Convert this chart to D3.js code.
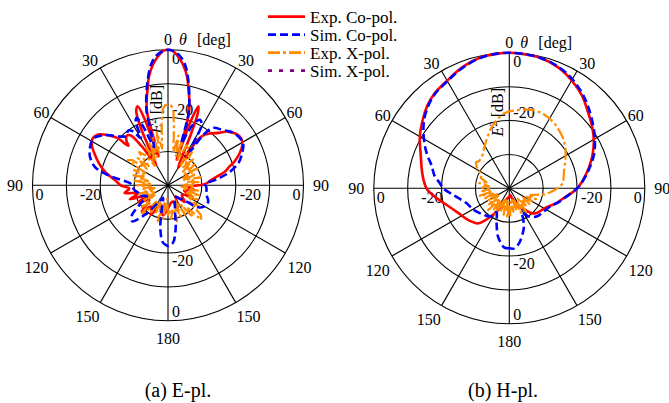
<!DOCTYPE html>
<html>
<head>
<meta charset="utf-8">
<script src="https://cdn.jsdelivr.net/npm/d3@7/dist/d3.min.js"></script>
<style>
  html, body { margin: 0; padding: 0; background: #fff; }
  svg { display: block; }
</style>
</head>
<body>
<svg id="chart" width="669" height="403"></svg>
<script>
// ---------------- DATA ([angle deg, level dB]) ----------------
const seriesNames = ["Exp. Co-pol.", "Sim. Co-pol.", "Exp. X-pol.", "Sim. X-pol."];
const angleTicks = [0, 30, 60, 90, 120, 150, 180, -30, -60, -90, -120, -150];
const angleTickLabels = ["0", "30", "60", "90", "120", "150", "180", "30", "60", "90", "120", "150"];
const radialTicks = [0, -20];
const radialTickLabels = ["0", "-20"];
const captions = ["(a) E-pl.", "(b) H-pl."];

// E-plane, measured co-pol
const eExpCo = [[-180,-33],[-170,-31],[-160,-34],[-150,-30],[-142,-32],[-135,-29],[-128,-33],[-120,-30],[-115,-33],[-110,-28],[-105,-31],[-100,-27],[-95,-28.5],[-90,-26],[-85,-24.5],[-78,-21],[-72,-18.5],[-67,-16.5],[-62,-14.5],[-58,-13.8],[-54,-14.5],[-50,-17],[-47,-19.5],[-45,-23.5],[-43,-22],[-40,-21],[-37,-21.5],[-34,-26],[-30,-33],[-27,-28],[-25,-20],[-23,-16],[-21,-15],[-19.5,-19],[-18,-31],[-16,-17.5],[-14,-14],[-12,-11],[-10,-7.5],[-7,-4],[-4,-1.5],[-2,-0.3],[0,0],[2,-0.3],[4,-1.5],[7,-4],[10,-7.5],[12,-11],[14,-14],[16,-17.5],[17.5,-24],[18.5,-32],[19.5,-20],[21,-15],[22.5,-17],[24,-23],[26,-30],[30,-34],[33,-24],[36,-21.5],[40,-20],[44,-18.5],[48,-16.3],[53,-14.8],[57.5,-14.3],[62,-15.2],[66,-16.9],[70,-19],[73,-21],[77,-23],[80,-25.5],[84,-27.5],[88,-29],[90,-31],[95,-34],[100,-32],[108,-35],[115,-32],[125,-35],[135,-33],[145,-36],[155,-33],[165,-35],[180,-33]];
// E-plane, simulated co-pol
const eSimCo = [[-180,-22],[-175,-23],[-170,-27],[-165,-33],[-158,-36],[-150,-34],[-142,-29],[-135,-25],[-130,-26],[-124,-30],[-117,-33],[-110,-31],[-105,-31],[-98,-30],[-92,-29.5],[-87,-28.8],[-81,-22.7],[-76,-17.8],[-70,-15.5],[-64,-14.4],[-58,-14],[-53,-15.5],[-49,-17.5],[-44,-20],[-40,-21],[-36,-20],[-33,-21],[-30,-24],[-27,-19],[-25,-18],[-23,-21],[-20,-28],[-18,-24],[-16,-17],[-14,-13.5],[-11,-8.5],[-8,-4],[-5,-1.5],[-2,-0.3],[0,0],[2,-0.3],[5,-1.5],[8,-4],[11,-8.5],[14,-14],[16,-18],[18,-27],[20,-24],[23,-20],[26,-18.5],[29,-19.5],[31,-25],[33,-28],[35,-22],[38,-18.5],[45,-17],[51,-15.3],[57,-14.6],[61,-14.6],[66,-16],[72,-18],[78,-21.5],[83,-25.5],[88,-29],[94,-28.6],[103,-28.4],[112,-27.2],[120,-27.5],[126,-29],[132,-33],[140,-35],[150,-36],[160,-34],[165,-32],[170,-27],[175,-23],[180,-22]];
// E-plane, measured cross-pol
const eExpX = [[-180,-31],[-176,-36],[-172,-30],[-168,-35],[-164,-29],[-160,-34],[-156,-31],[-152,-36],[-148,-30],[-144,-34],[-140,-29],[-137,-28.7],[-134,-33],[-130,-30],[-126,-35],[-122,-31],[-118,-36],[-114,-32],[-110,-35],[-106,-31],[-102,-36],[-98,-32],[-94,-35],[-90,-31],[-86,-35],[-82,-30],[-78,-34],[-74,-29],[-70,-33],[-66,-29],[-62,-33],[-58,-26],[-55,-27],[-52,-32],[-48,-28],[-45,-32],[-41,-27],[-37,-28.9],[-34,-33],[-30,-27],[-27,-32],[-24,-26],[-21,-31],[-18,-25],[-15,-30],[-12,-24],[-9,-29],[-6,-22],[-4,-17.5],[-2,-16.3],[0,-16.2],[2,-16.3],[4,-17.5],[6,-23],[9,-30],[12,-25],[15,-31],[18,-26],[21,-32],[25,-27],[29,-27.6],[32,-33],[36,-28],[40,-33],[44,-29],[48,-34],[52,-30],[56,-34],[60,-30],[64,-35],[68,-31],[72,-35],[76,-30],[80,-34],[84,-31],[88,-35],[92,-32],[96,-36],[100,-31],[104,-35],[108,-30],[112,-34],[116,-30],[120,-33],[124,-29],[128,-32],[132,-27],[136,-25.8],[139,-31],[142,-28],[146,-33],[150,-30],[154,-35],[158,-30],[162,-34],[166,-29],[170,-33],[174,-30],[178,-33],[180,-31]];
// E-plane, simulated cross-pol (below the -40 dB floor)
const eSimX = [[-180,-45],[-90,-45],[0,-45],[90,-45],[180,-45]];

// H-plane, measured co-pol
const hExpCo = [[-180,-37.5],[-170,-37],[-160,-36],[-153,-32.8],[-145,-29.2],[-138.5,-26.2],[-128,-24.7],[-116,-23.3],[-105,-20.9],[-98,-18.5],[-91,-15.8],[-84,-14.5],[-78,-13.6],[-70,-12.2],[-60,-9.5],[-52,-7.5],[-45,-5.7],[-38,-4.3],[-30,-3.3],[-22,-1.8],[-13,-0.5],[-5,-0.1],[0,0],[5,-0.1],[13,-0.4],[22,-1.5],[30,-3.2],[38,-5.2],[45,-7.4],[52,-9.2],[60,-11.2],[67,-13.2],[73,-15],[79,-16.8],[85,-18.5],[90,-20],[95,-21.8],[100.5,-23.8],[108,-25.5],[115,-27.3],[122,-28.3],[132,-29.1],[138,-30.1],[147,-33],[157,-35.7],[165,-37],[172,-38],[180,-37.5]];
// H-plane, simulated co-pol
const hSimCo = [[-180,-22.3],[-175,-22.5],[-167,-25.3],[-162,-28],[-158,-30],[-152,-32],[-146,-30],[-138,-29.3],[-130,-28.6],[-120,-27.6],[-109,-26.6],[-97,-23.4],[-90,-20.5],[-86,-19.5],[-80,-17.5],[-74,-16.2],[-67,-13.5],[-60,-10.9],[-52,-8],[-45,-6],[-38,-4.5],[-30,-3.5],[-22,-2],[-13,-0.6],[-5,-0.1],[0,0],[5,-0.1],[13,-0.4],[22,-1.3],[30,-2.8],[38,-4.8],[45,-6.8],[53.7,-9.2],[60.6,-11],[68,-13],[75,-15.3],[82,-17.5],[89,-19.6],[98,-22.9],[106,-25],[114,-26.8],[125,-27.8],[136,-28.4],[146,-30],[152,-32],[156,-29.8],[160,-27.5],[165.7,-25.2],[170,-23.5],[175,-22.2],[180,-22.3]];
// H-plane, measured cross-pol
const hExpX = [[-180,-35],[-176,-31],[-172,-36],[-168,-32],[-164,-37],[-160,-33],[-156,-36],[-152,-31],[-148,-35],[-144,-32],[-140,-36],[-136,-31],[-132,-35],[-128,-32],[-124,-36],[-120,-33],[-116,-36],[-112,-32],[-108,-35],[-104,-31],[-100,-35],[-96,-32],[-92,-34],[-88,-31.5],[-84,-34],[-80,-31],[-75,-33],[-70,-31],[-65,-31],[-61,-30],[-57,-28.5],[-52,-27.5],[-48,-28],[-43,-27.8],[-38,-27.3],[-33,-26.2],[-28,-25],[-23,-23.5],[-18,-21.8],[-13,-20.3],[-8,-18.8],[-4,-17.8],[0,-17.3],[6,-16.8],[12,-16.2],[18,-15.8],[24,-15.8],[30,-16.2],[36,-16.8],[42,-17.6],[48,-18.4],[54,-19.5],[60,-20.8],[66,-22],[72,-23],[78,-23.6],[84,-24],[88,-25],[92,-26.5],[96,-28],[100,-29.5],[104,-32],[108,-33.5],[112,-31.5],[116,-34.3],[120,-32],[124,-35],[128,-32.5],[132,-35],[136,-33],[140,-36],[144,-32],[147,-30.5],[150,-35],[154,-32],[158,-36],[162,-33],[166,-37],[170,-33],[174,-36],[178,-32],[180,-35]];
// H-plane, simulated cross-pol (below the -40 dB floor)
const hSimX = [[-180,-45],[-90,-45],[0,-45],[90,-45],[180,-45]];

// ---------------- STYLE ----------------
const FONT = "'Liberation Serif', 'DejaVu Serif', 'Times New Roman', Times, serif";
const R = 135.5;
const styles = [
  { color: "#ff0000", dash: null, width: 2.6, curve: d3.curveCatmullRom.alpha(0.5) },
  { color: "#0000ff", dash: "8,4", width: 2.6, curve: d3.curveCatmullRom.alpha(0.5) },
  { color: "#ff8c00", dash: "12,3,3,3", width: 2.2, curve: d3.curveLinear },
  { color: "#800080", dash: "4,7", width: 2.6, curve: d3.curveLinear }
];
const panels = [
  { cx: 168, cy: 185.3, data: [eExpCo, eSimCo, eExpX, eSimX], cap: captions[0], capX: 178 },
  { cx: 509.3, cy: 188.3, data: [hExpCo, hSimCo, hExpX, hSimX], cap: captions[1], capX: 503 }
];
const labelShift = { 0: 0, 30: 2, 60: 0, 90: 0, 120: 2, 150: -1.5, 180: 0 };
const labelRad = { 0: 146, 30: 147, 60: 146, 90: 153, 120: 155, 150: 154, 180: 153 };

const svg = d3.select("#chart").attr("font-family", FONT);
const rScale = d3.scaleLinear().domain([-40, 0]).range([0, R]).clamp(true);
const rad = d => d * Math.PI / 180;
const txt = (sel) => sel.append("text").attr("font-family", FONT).attr("fill", "#000");

panels.forEach(p => {
  const g = svg.append("g").attr("transform", `translate(${p.cx},${p.cy})`);

  [-30, -20, -10, 0].forEach(v => {
    g.append("circle").attr("r", rScale(v)).attr("fill", "none")
      .attr("stroke", "#000").attr("stroke-width", 1.1);
  });
  d3.range(0, 360, 30).forEach(a => {
    g.append("line").attr("x1", 0).attr("y1", 0)
      .attr("x2", R * Math.sin(rad(a))).attr("y2", -R * Math.cos(rad(a)))
      .attr("stroke", "#000").attr("stroke-width", 1.1);
  });

  angleTicks.forEach((a, i) => {
    const absA = Math.abs(a);
    const s = a < 0 ? -1 : 1;
    const ang = rad(a + s * labelShift[absA]);
    const rr = labelRad[absA];
    txt(g).attr("x", rr * Math.sin(ang)).attr("y", -rr * Math.cos(ang))
      .attr("text-anchor", "middle").attr("dominant-baseline", "central")
      .attr("font-size", 16).text(angleTickLabels[i]);
  });
  txt(g).attr("x", 11).attr("y", -145.5).attr("dominant-baseline", "central")
    .attr("font-size", 16).attr("font-style", "italic").text("θ");
  txt(g).attr("x", 29).attr("y", -146).attr("dominant-baseline", "central")
    .attr("font-size", 16).text("[deg]");

  radialTicks.forEach((v, i) => {
    const r = rScale(v);
    const t = radialTickLabels[i];
    const outer = v === 0;
    txt(g).attr("x", 4).attr("y", outer ? -r + 14 : -r - 3).attr("font-size", 16).text(t);
    txt(g).attr("x", 4).attr("y", outer ? r - 4 : r + 13).attr("font-size", 16).text(t);
    txt(g).attr("x", outer ? -r + 3 : -r + 1).attr("y", 15)
      .attr("text-anchor", outer ? "start" : "end").attr("font-size", 16).text(t);
    txt(g).attr("x", outer ? r - 3 : r + 4).attr("y", 15)
      .attr("text-anchor", outer ? "end" : "start").attr("font-size", 16).text(t);
  });

  const yl = txt(g).attr("transform", "translate(-6,-76) rotate(-90)")
    .attr("text-anchor", "middle").attr("font-size", 16);
  yl.append("tspan").attr("font-style", "italic").text("E");
  yl.append("tspan").attr("font-size", 11).attr("dy", -6).text("2");
  yl.append("tspan").attr("dy", 6).text(" [dB]");

  [0, 2, 1, 3].forEach(k => {
    const st = styles[k];
    const line = d3.lineRadial()
      .angle(d => rad(d[0]))
      .radius(d => rScale(d[1]))
      .curve(st.curve);
    g.append("path").datum(p.data[k]).attr("d", line)
      .attr("fill", "none").attr("stroke", st.color)
      .attr("stroke-width", st.width)
      .attr("stroke-dasharray", st.dash)
      .attr("stroke-linejoin", "round");
  });

  txt(svg).attr("x", p.capX).attr("y", 397).attr("text-anchor", "middle")
    .attr("font-size", 20).text(p.cap);
});

const lg = svg.append("g");
seriesNames.forEach((n, i) => {
  const y = 16.7 + i * 18;
  const st = styles[i];
  lg.append("line").attr("x1", 268).attr("x2", 305).attr("y1", y).attr("y2", y)
    .attr("stroke", st.color).attr("stroke-width", 2.8)
    .attr("stroke-dasharray", st.dash);
  txt(lg).attr("x", 310).attr("y", y + 6).attr("font-size", 17).text(n);
});
</script>
</body>
</html>
